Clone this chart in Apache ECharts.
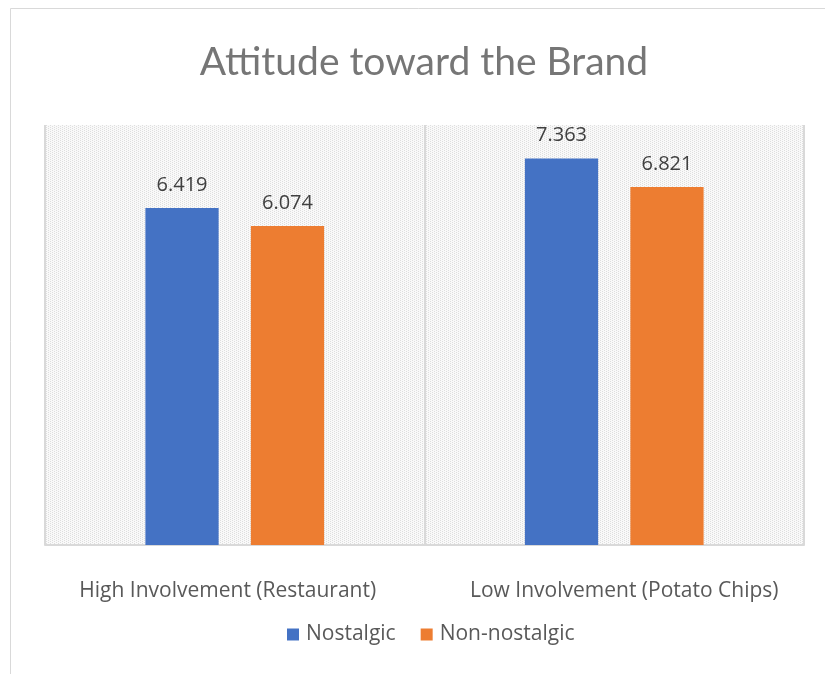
<!DOCTYPE html>
<html>
<head>
<meta charset="utf-8">
<script src="https://cdn.jsdelivr.net/npm/echarts@6/dist/echarts.min.js"></script>
<style>
html,body{margin:0;padding:0;background:#fff;}
#main{width:825px;height:674px;}
</style>
</head>
<body>
<div id="main"></div>
<script>
const categories = ['High Involvement (Restaurant)', 'Low Involvement (Potato Chips)'];
const seriesNames = ['Nostalgic', 'Non-nostalgic'];
const nostalgic = [6.419, 7.363];
const nonNostalgic = [6.074, 6.821];
const titleText = 'Attitude toward the Brand';

function makePattern() {
  const c = document.createElement('canvas');
  c.width = 8; c.height = 8;
  const ctx = c.getContext('2d');
  ctx.fillStyle = '#f9f9f9';
  ctx.fillRect(0, 0, 8, 8);
  ctx.fillStyle = '#dedede';
  for (let y = 0; y < 8; y++) {
    for (let x = 0; x < 8; x++) {
      if ((x + 2 * y) % 4 === 0) ctx.fillRect(x, y, 1, 1);
    }
  }
  return c;
}

const titleFont = 'Lato, sans-serif';
const font = '"Open Sans", sans-serif';
const catStyle = {color: '#595959', fontSize: 21, fontFamily: font};
const chart = echarts.init(document.getElementById('main'), null, {renderer: 'canvas'});
chart.setOption({
  animation: false,
  backgroundColor: '#ffffff',
  title: {
    text: titleText,
    left: 419, top: 38, textAlign: 'center',
    textStyle: {color: '#767676', fontSize: 39, fontWeight: 'normal', fontFamily: titleFont}
  },
  legend: {
    data: seriesNames,
    top: 624, left: 287, padding: 0,
    itemWidth: 12, itemHeight: 12, itemGap: 25,
    icon: 'rect',
    textStyle: {color: '#595959', fontSize: 21, fontFamily: font, padding: [0, 0, 0, 2]}
  },
  graphic: [{
    type: 'rect', silent: true,
    shape: {x: 10.5, y: 8.5, width: 900, height: 900},
    style: {fill: 'none', stroke: '#d9d9d9', lineWidth: 1}
  }],
  grid: {
    left: 45, right: 21, top: 125, bottom: 129,
    show: true, borderWidth: 0,
    backgroundColor: {image: makePattern(), repeat: 'repeat'}
  },
  xAxis: {
    type: 'category', data: categories,
    axisLine: {show: true, lineStyle: {color: '#d9d9d9', width: 2}},
    axisTick: {show: false},
    splitLine: {show: true, interval: 0, lineStyle: {color: '#d9d9d9', width: 2}},
    axisLabel: {
      interval: 0, color: '#595959', fontSize: 21, fontFamily: font, margin: 36,
      formatter: (v, i) => (i === 0 ? '{a|' : '{b|') + v + '}',
      rich: {
        a: Object.assign({padding: [0, 14, 0, 0]}, catStyle),
        b: Object.assign({padding: [0, 0, 0, 20]}, catStyle)
      }
    }
  },
  yAxis: {
    type: 'value', min: 0, max: 8, interval: 1, show: false,
    splitLine: {show: false}
  },
  series: [{
    name: seriesNames[0], type: 'bar', data: nostalgic,
    barWidth: '19.3%', barGap: '44%',
    itemStyle: {color: '#4472C4'},
    label: {show: true, position: 'top', distance: 13, color: '#404040', fontSize: 20, fontFamily: font,
      formatter: p => p.value.toFixed(3)}
  }, {
    name: seriesNames[1], type: 'bar', data: nonNostalgic,
    barWidth: '19.3%', barGap: '44%',
    itemStyle: {color: '#ED7D31'},
    label: {show: true, position: 'top', distance: 13, color: '#404040', fontSize: 20, fontFamily: font,
      formatter: p => p.value.toFixed(3)}
  }]
});
</script>
</body>
</html>
